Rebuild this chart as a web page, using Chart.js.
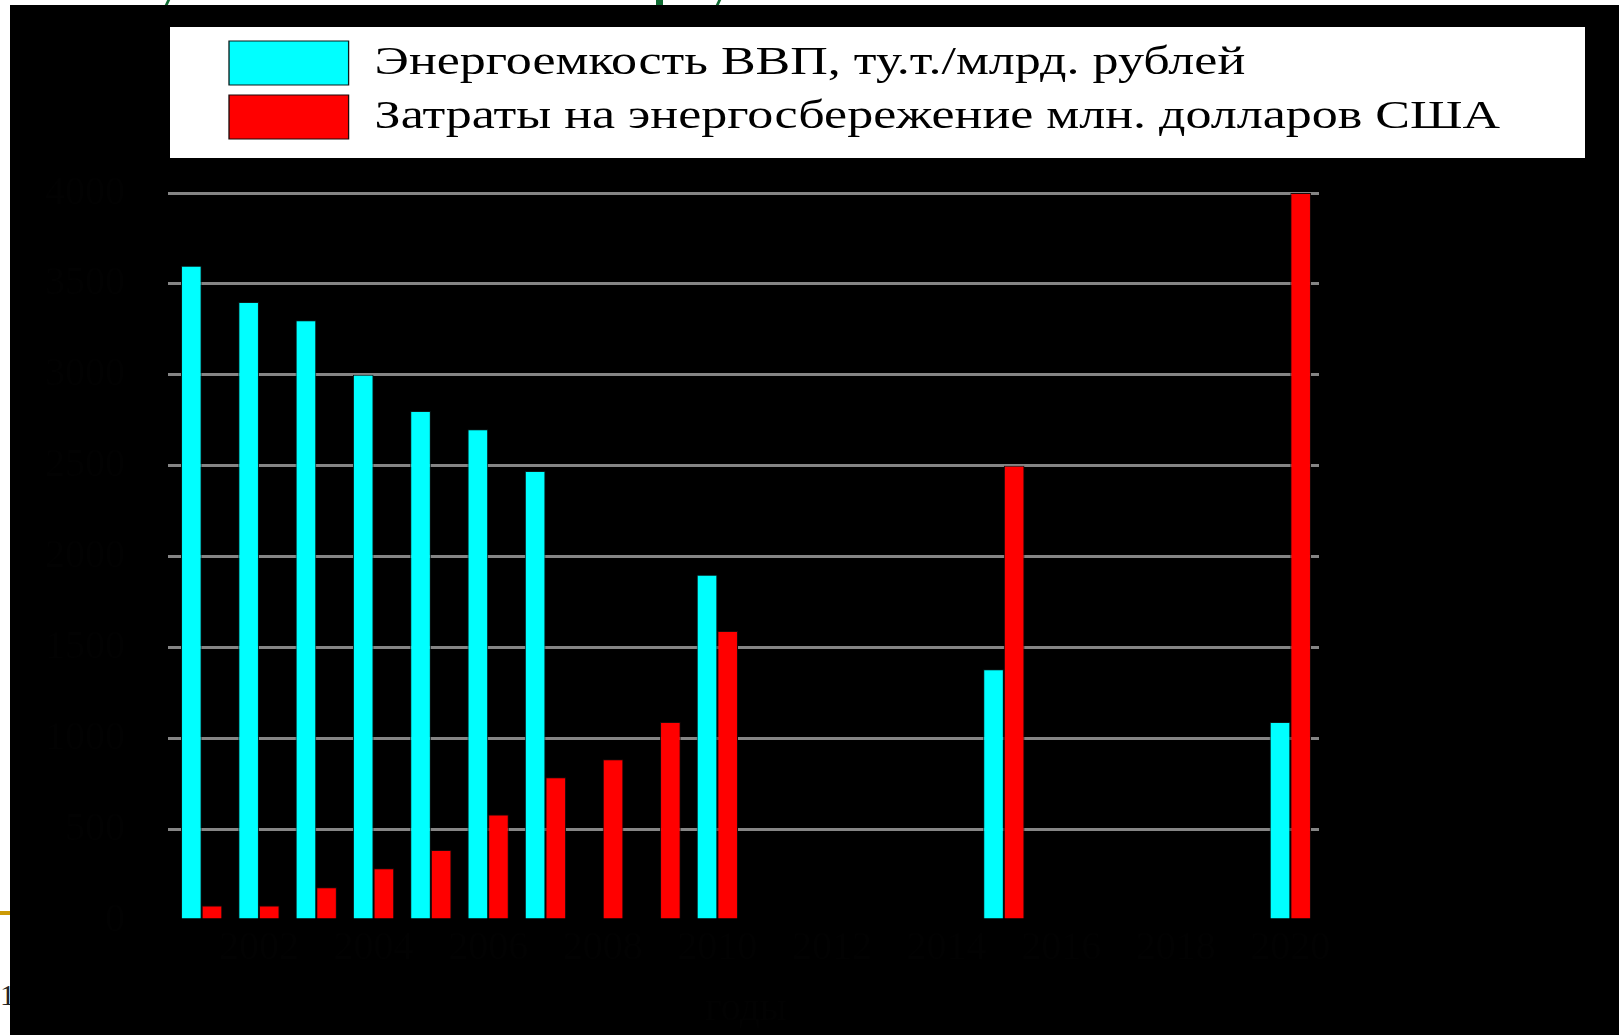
<!DOCTYPE html>
<html>
<head>
<meta charset="utf-8">
<script src="https://cdn.jsdelivr.net/npm/chart.js@4/dist/chart.umd.min.js"></script>
<style>
  html, body { margin: 0; padding: 0; background: #fff; width: 1619px; height: 1035px; overflow: hidden; position: relative; }
  #panel { position: absolute; left: 10px; top: 5px; width: 1609px; height: 1030px; background: #000; z-index: 2; }
  #rule { position: absolute; left: 0; top: 911px; width: 10px; height: 4px; background: #cc9a06; }
  #num { position: absolute; left: 0; top: 980px; font: 30px 'Liberation Serif', serif; line-height: 1; color: #222; z-index: 1; }
  .stroke { position: absolute; top: 0; height: 5px; background: #0f6b32; }
</style>
</head>
<body>
<div class="stroke" style="left:166px;width:3px;transform:skewX(-25deg)"></div>
<div class="stroke" style="left:656px;width:7px"></div>
<div class="stroke" style="left:717px;width:3px;transform:skewX(-25deg)"></div>
<div id="rule"></div>
<div id="num">1</div>
<div id="panel"><canvas id="chart" width="1609" height="1030"></canvas></div>
<script>
// Years along the horizontal axis
const years = ['2001', '2002', '2003', '2004', '2005', '2006', '2007', '2008', '2009', '2010',
               '2011', '2012', '2013', '2014', '2015', '2016', '2017', '2018', '2019', '2020'];

// Energy intensity of GDP, tce per billion roubles
const intensity = [3600, 3400, 3300, 3000, 2800, 2700, 2470, null, null, 1900,
                   null, null, null, null, 1380, null, null, null, null, 1090];

// Spending on energy saving, million US dollars
const savings = [80, 80, 180, 285, 385, 580, 785, 885, 1090, 1590,
                 null, null, null, null, 2500, null, null, null, null, 4000];

const seriesNames = ['Энергоемкость ВВП, ту.т./млрд. рублей',
                     'Затраты на энергосбережение млн. долларов США'];
const axisTitle = 'годы';
const yMax = 4000;
const yStep = 500;

const faint = '#020202';
const legendStretch = 1.3;   // the legend lettering is drawn wide, Times-like

// Places the legend, stretches its lettering and paints the white frame behind it
const legendFrame = {
  id: 'legendFrame',
  afterLayout(chart) {
    const lg = chart.legend;
    lg.left = chart.chartArea.left + 46;
    lg.right = lg.left + 1300;
    lg.width = lg.right - lg.left;
    if (!lg._wideDraw) {
      const baseDraw = lg.draw.bind(lg);
      lg.draw = function () {
        const c = this.ctx;
        const ox = this.left + 10;
        c.save();
        c.translate(ox, 0);
        c.scale(legendStretch, 1);
        c.translate(-ox, 0);
        baseDraw();
        c.restore();
      };
      lg._wideDraw = true;
    }
  },
  beforeDraw(chart) {
    const { ctx, legend: lg } = chart;
    ctx.save();
    ctx.fillStyle = '#000';
    ctx.fillRect(0, 0, chart.width, chart.height);
    ctx.fillStyle = '#fff';
    ctx.fillRect(lg.left - 49, lg.top - 4, 1415, 131);
    ctx.restore();
  }
};

new Chart(document.getElementById('chart'), {
  type: 'bar',
  data: {
    labels: years,
    datasets: [
      { label: seriesNames[0], data: intensity, backgroundColor: '#00ffff', borderColor: '#0a1a1a', borderWidth: 1 },
      { label: seriesNames[1], data: savings, backgroundColor: '#ff0000', borderColor: '#1a0a0a', borderWidth: 1 }
    ]
  },
  options: {
    responsive: false,
    animation: false,
    categoryPercentage: 0.72,
    barPercentage: 1.0,
    layout: { padding: { left: 35, right: 300, top: 26, bottom: 2 } },
    plugins: {
      legend: {
        position: 'top',
        align: 'start',
        labels: {
          boxWidth: 92,
          boxHeight: 44,
          padding: 10,
          color: '#000',
          font: { family: 'Liberation Serif', size: 40 }
        }
      },
      // empty spacer between the legend and the plot
      title: {
        display: true,
        text: '',
        weight: 100,
        font: { size: 10, lineHeight: 1 },
        padding: { top: 34, bottom: 0 }
      },
      tooltip: { enabled: false }
    },
    scales: {
      x: {
        grid: { display: false, drawTicks: false },
        border: { display: false },
        ticks: {
          autoSkip: false,
          maxRotation: 0,
          padding: 4,
          color: faint,
          font: { family: 'Liberation Serif', size: 40 },
          callback(value, index) { return index % 2 === 1 ? years[index] : ''; }
        },
        title: {
          display: true,
          text: axisTitle,
          color: faint,
          padding: { top: 9, bottom: 0 },
          font: { family: 'Liberation Serif', size: 40 }
        }
      },
      y: {
        min: 0,
        max: yMax,
        border: { display: false },
        afterFit(axis) { axis.width = 128; },
        grid: {
          lineWidth: 3,
          drawTicks: true,
          tickLength: 5,
          color: (c) => (c.tick && c.tick.value === 0 ? '#000' : '#858585')
        },
        ticks: {
          stepSize: yStep,
          padding: 43,
          color: faint,
          font: { family: 'Liberation Serif', size: 40 },
          callback: (v) => String(v)
        }
      }
    }
  },
  plugins: [legendFrame]
});
</script>
</body>
</html>
